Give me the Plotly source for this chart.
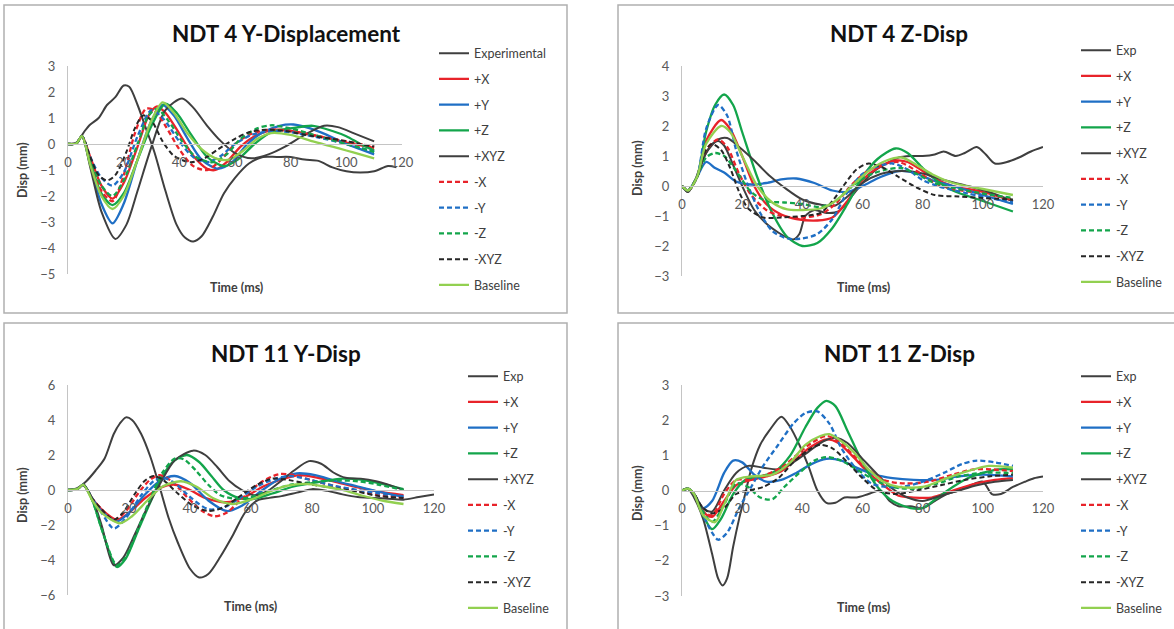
import plotly.graph_objects as go

W, H = 1174, 629

# ---------------- Data (time ms, displacement mm) ----------------
TIME_TICKS = [0, 20, 40, 60, 80, 100, 120]
SERIES_NAMES = ["Exp", "+X", "+Y", "+Z", "+XYZ", "-X", "-Y", "-Z", "-XYZ", "Baseline"]
PANEL_TITLES = ["NDT 4 Y-Displacement", "NDT 4 Z-Disp", "NDT 11 Y-Disp", "NDT 11 Z-Disp"]
Y_TICKS_1 = [-5, -4, -3, -2, -1, 0, 1, 2, 3]
Y_TICKS_2 = [-3, -2, -1, 0, 1, 2, 3, 4]
Y_TICKS_3 = [-6, -4, -2, 0, 2, 4, 6]
Y_TICKS_4 = [-3, -2, -1, 0, 1, 2, 3]

# Panel 1: NDT 4 Y-Displacement
P1_EXP = [(0,0),(3,0.05),(6,0.5),(8,0.75),(11,1.0),(14,1.5),(17,1.8),(20,2.25),(22,2.2),(25,1.5),(28,0.6),(31,-0.3),(35,-1.8),(39,-3.1),(42,-3.6),(45,-3.75),(48,-3.55),(52,-2.8),(56,-1.9),(60,-1.3),(65,-0.75),(70,-0.5),(75,-0.5),(80,-0.5),(85,-0.6),(90,-0.65),(95,-0.9),(100,-1.05),(105,-1.1),(110,-1.05),(115,-0.85),(118,-0.9)]
P1_PX = [(0,0),(3,0.02),(5,0.3),(8,-0.5),(12,-1.6),(16,-2.1),(20,-1.5),(25,-0.1),(29,1.1),(32,1.45),(35,1.2),(40,0.4),(45,-0.45),(50,-0.95),(53,-1.0),(57,-0.7),(62,-0.1),(68,0.35),(75,0.55),(80,0.5),(90,0.3),(100,0.05),(110,-0.15)]
P1_PY = [(0,0),(3,0.02),(5,0.3),(8,-0.8),(12,-2.3),(16,-3.05),(20,-2.3),(25,-0.6),(30,0.9),(34,1.5),(38,1.1),(43,0.2),(48,-0.6),(54,-0.95),(59,-0.7),(64,-0.05),(70,0.45),(76,0.7),(81,0.75),(87,0.6),(93,0.35),(100,0.0),(105,-0.2),(110,-0.4)]
P1_PZ = [(0,0),(3,0.02),(5,0.3),(8,-0.7),(12,-1.9),(16,-2.35),(20,-1.9),(25,-0.6),(30,0.7),(35,1.55),(39,1.2),(44,0.4),(50,-0.5),(56,-0.85),(61,-0.6),(67,0.0),(73,0.45),(80,0.6),(88,0.7),(95,0.5),(100,0.3),(105,0.0),(110,-0.25)]
P1_PXYZ = [(0,0),(3,0.02),(5,0.3),(8,-0.9),(12,-2.6),(17,-3.65),(21,-3.1),(25,-1.8),(30,-0.1),(35,1.3),(41,1.75),(45,1.4),(50,0.7),(55,0.1),(60,-0.35),(66,-0.55),(72,-0.4),(78,-0.1),(85,0.35),(92,0.7),(97,0.65),(103,0.4),(110,0.1)]
P1_MX = [(0,0),(3,0.02),(5,0.3),(8,-0.6),(12,-1.8),(16,-2.2),(20,-1.2),(24,0.4),(28,1.35),(31,1.3),(35,0.7),(40,-0.2),(45,-0.85),(50,-1.0),(55,-0.6),(60,0.0),(66,0.4),(73,0.55),(80,0.5),(90,0.3),(100,0.1),(110,-0.1)]
P1_MY = [(0,0),(3,0.02),(5,0.3),(8,-0.5),(12,-1.3),(16,-1.6),(20,-1.1),(25,0.3),(30,1.3),(34,1.0),(40,0.1),(45,-0.5),(50,-0.7),(55,-0.45),(60,0.0),(66,0.35),(74,0.5),(80,0.45),(90,0.25),(100,0.0),(105,-0.15),(110,-0.3)]
P1_MZ = [(0,0),(3,0.02),(5,0.3),(8,-0.6),(12,-1.6),(16,-2.0),(20,-1.4),(25,0.0),(29,1.1),(32,1.35),(36,0.9),(41,0.1),(46,-0.5),(52,-0.7),(57,-0.4),(62,0.2),(68,0.6),(73,0.72),(80,0.6),(90,0.3),(100,0.0),(105,-0.15),(110,-0.3)]
P1_MXYZ = [(0,0),(3,0.02),(5,0.3),(8,-0.5),(11,-1.2),(14,-1.4),(17,-1.2),(21,-0.3),(24,0.6),(27,1.1),(30,0.9),(34,0.1),(38,-0.45),(44,-0.7),(49,-0.55),(54,-0.2),(60,0.2),(65,0.45),(71,0.55),(78,0.5),(88,0.3),(98,0.15),(105,0.0),(110,-0.1)]
P1_BASE = [(0,0),(3,0.02),(5,0.3),(8,-0.8),(12,-2.0),(16,-2.5),(20,-2.0),(25,-0.6),(30,0.9),(34,1.6),(38,1.2),(43,0.4),(48,-0.2),(53,-0.55),(58,-0.6),(63,-0.25),(68,0.2),(73,0.42),(80,0.35),(88,0.1),(95,-0.1),(100,-0.25),(105,-0.4),(110,-0.55)]

# Panel 2: NDT 4 Z-Disp
P2_EXP = [(0,0),(2,-0.2),(4,0.1),(7,0.9),(10,1.4),(12,1.5),(14,1.35),(17,0.7),(20,0.0),(24,-0.8),(28,-1.25),(32,-1.55),(35,-1.72),(37,-1.78),(39,-1.6),(41,-1.0),(44,-0.8),(48,-0.9),(52,-0.85),(56,-0.4),(60,0.1),(64,0.5),(68,0.75),(72,0.95),(76,1.0),(80,1.0),(84,1.05),(87,1.15),(91,1.0),(94,1.1),(98,1.3),(101,1.05),(104,0.75),(108,0.8),(112,0.95),(116,1.15),(120,1.3)]
P2_PX = [(0,0),(2,-0.15),(5,0.3),(8,1.5),(13,2.2),(16,1.9),(20,1.0),(24,0.0),(28,-0.6),(33,-0.95),(38,-1.1),(45,-1.15),(50,-1.05),(55,-0.5),(60,0.2),(65,0.6),(71,0.85),(75,0.8),(80,0.5),(85,0.2),(90,0.0),(100,-0.2),(110,-0.5)]
P2_PY = [(0,0),(2,-0.15),(5,0.3),(8,0.8),(11,0.6),(14,0.45),(18,0.15),(23,0.05),(28,0.1),(33,0.22),(38,0.25),(44,0.1),(50,-0.15),(55,-0.2),(60,0.0),(66,0.3),(72,0.5),(77,0.45),(83,0.2),(90,0.0),(100,-0.3),(110,-0.6)]
P2_PZ = [(0,0),(2,-0.15),(5,0.3),(8,1.8),(11,2.7),(14,3.05),(17,2.7),(20,1.8),(25,0.3),(30,-0.9),(35,-1.7),(40,-2.0),(45,-1.9),(50,-1.4),(55,-0.6),(60,0.3),(65,0.9),(71,1.25),(75,1.1),(80,0.6),(85,0.15),(90,-0.15),(100,-0.5),(110,-0.85)]
P2_PXYZ = [(0,0),(2,-0.2),(5,0.3),(8,1.1),(12,1.55),(15,1.6),(19,1.3),(24,0.85),(29,0.35),(34,-0.05),(40,-0.45),(46,-0.62),(51,-0.65),(55,-0.35),(60,0.1),(66,0.4),(73,0.5),(80,0.42),(87,0.2),(95,0.0),(102,-0.2),(110,-0.5)]
P2_MX = [(0,0),(2,-0.15),(5,0.3),(8,1.2),(12,1.55),(15,1.3),(19,0.4),(23,-0.3),(28,-0.8),(33,-1.0),(40,-1.05),(46,-0.95),(51,-0.6),(56,0.0),(61,0.45),(66,0.7),(72,0.8),(78,0.5),(84,0.1),(90,-0.1),(100,-0.25),(110,-0.45)]
P2_MY = [(0,0),(2,-0.15),(5,0.3),(8,1.9),(12,2.7),(15,2.35),(18,1.2),(22,0.0),(26,-0.9),(30,-1.5),(35,-1.75),(40,-1.75),(45,-1.6),(50,-1.1),(55,-0.2),(60,0.4),(65,0.65),(70,0.75),(75,0.55),(80,0.2),(85,0.0),(95,-0.25),(110,-0.55)]
P2_MZ = [(0,0),(2,-0.15),(5,0.3),(8,0.95),(11,1.1),(14,1.0),(18,0.5),(23,-0.2),(28,-0.5),(34,-0.55),(40,-0.6),(46,-0.7),(51,-0.5),(56,-0.05),(62,0.35),(68,0.55),(73,0.6),(78,0.4),(84,0.1),(92,-0.1),(100,-0.25),(110,-0.4)]
P2_MXYZ = [(0,0),(2,-0.15),(5,0.3),(8,1.2),(10,1.4),(13,1.2),(16,0.6),(19,-0.2),(22,-0.75),(27,-1.05),(33,-1.05),(40,-1.0),(46,-0.9),(50,-0.5),(54,0.05),(58,0.55),(62,0.75),(67,0.6),(72,0.3),(78,-0.05),(84,-0.3),(92,-0.35),(100,-0.4),(110,-0.45)]
P2_BASE = [(0,0),(2,-0.15),(5,0.3),(8,1.4),(13,2.0),(16,1.8),(20,1.0),(25,0.0),(30,-0.55),(35,-0.78),(40,-0.8),(46,-0.75),(51,-0.5),(56,-0.05),(62,0.5),(68,0.85),(73,0.95),(78,0.7),(84,0.35),(90,0.1),(100,-0.1),(110,-0.3)]

# Panel 3: NDT 11 Y-Disp
P3_EXP = [(0,0),(3,0.1),(6,0.5),(9,1.1),(12,1.8),(15,3.2),(17,3.8),(19,4.15),(21,4.0),(24,3.2),(27,1.9),(30,0.2),(33,-1.6),(36,-3.0),(40,-4.5),(43,-5.0),(46,-4.8),(50,-3.8),(54,-2.6),(58,-1.3),(62,-0.6),(66,-0.45),(70,-0.35),(75,-0.15),(80,0.05),(85,-0.05),(90,-0.25),(95,-0.4),(100,-0.45),(105,-0.5),(110,-0.55),(115,-0.4),(120,-0.25)]
P3_PX = [(0,0),(3,0.05),(5,0.3),(8,-0.5),(11,-1.1),(16,-1.7),(20,-1.3),(25,-0.5),(30,0.1),(35,0.3),(40,0.0),(45,-0.45),(52,-0.7),(58,-0.4),(64,0.2),(70,0.6),(76,0.85),(82,0.7),(88,0.45),(95,0.15),(102,-0.1),(110,-0.3)]
P3_PY = [(0,0),(3,0.05),(5,0.3),(8,-0.5),(11,-1.2),(16,-1.8),(20,-1.3),(25,-0.3),(30,0.5),(35,0.8),(40,0.4),(46,-0.6),(52,-1.2),(57,-0.9),(63,-0.1),(69,0.6),(75,0.95),(81,0.85),(88,0.5),(95,0.2),(102,-0.1),(110,-0.4)]
P3_PZ = [(0,0),(3,0.05),(5,0.3),(8,-0.6),(11,-2.2),(16,-4.4),(19,-3.9),(23,-2.3),(27,-0.7),(31,0.8),(35,1.7),(39,2.0),(43,1.6),(47,0.8),(51,0.0),(56,-0.45),(61,-0.5),(67,-0.2),(74,0.2),(82,0.45),(90,0.65),(96,0.6),(103,0.35),(110,0.05)]
P3_PXYZ = [(0,0),(3,0.05),(5,0.3),(8,-0.5),(11,-2.0),(15,-4.3),(18,-3.9),(22,-2.5),(26,-1.0),(30,0.3),(35,1.7),(41,2.25),(45,2.0),(49,1.3),(53,0.5),(57,0.0),(61,-0.3),(65,-0.1),(69,0.4),(74,1.1),(79,1.65),(83,1.5),(87,1.0),(91,0.7),(96,0.65),(101,0.5),(106,0.25),(110,0.0)]
P3_MX = [(0,0),(3,0.05),(5,0.3),(8,-0.5),(11,-1.1),(15,-1.7),(19,-1.2),(23,-0.2),(27,0.6),(30,0.85),(34,0.5),(39,-0.4),(44,-1.2),(48,-1.5),(52,-1.3),(57,-0.5),(63,0.4),(69,0.9),(74,0.85),(80,0.55),(88,0.2),(95,-0.05),(102,-0.3),(110,-0.45)]
P3_MY = [(0,0),(3,0.05),(5,0.3),(8,-0.5),(11,-1.3),(15,-2.2),(19,-1.6),(24,-0.3),(28,0.5),(31,0.7),(35,0.4),(40,-0.4),(46,-1.1),(51,-1.0),(56,-0.5),(62,0.2),(68,0.65),(73,0.8),(79,0.6),(87,0.25),(95,0.0),(102,-0.2),(110,-0.35)]
P3_MZ = [(0,0),(3,0.05),(5,0.3),(8,-0.6),(11,-2.2),(16,-4.3),(19,-3.8),(23,-2.2),(27,-0.5),(31,1.0),(35,1.8),(38,1.75),(42,1.1),(46,0.3),(50,-0.3),(55,-0.5),(60,-0.4),(66,-0.05),(73,0.3),(80,0.45),(88,0.55),(95,0.5),(102,0.3),(110,0.0)]
P3_MXYZ = [(0,0),(3,0.05),(5,0.3),(8,-0.5),(11,-1.1),(15,-1.7),(18,-1.3),(22,-0.2),(25,0.5),(28,0.8),(31,0.6),(36,-0.2),(41,-0.9),(46,-1.2),(51,-1.0),(56,-0.4),(62,0.3),(67,0.65),(73,0.55),(80,0.3),(88,0.1),(95,-0.1),(102,-0.35),(110,-0.45)]
P3_BASE = [(0,0),(3,0.05),(5,0.3),(8,-0.6),(11,-1.3),(17,-1.9),(21,-1.5),(26,-0.6),(31,0.2),(37,0.5),(42,0.2),(48,-0.5),(54,-0.8),(60,-0.55),(66,-0.1),(72,0.25),(78,0.35),(84,0.2),(90,0.0),(96,-0.3),(103,-0.6),(110,-0.8)]

# Panel 4: NDT 11 Z-Disp
P4_EXP = [(0,0),(2,0.05),(4,-0.2),(7,-0.8),(10,-1.8),(12,-2.5),(13.5,-2.7),(15,-2.5),(17,-1.6),(19,-0.8),(21,-0.1),(23,0.6),(26,1.3),(29,1.7),(33,2.1),(36,1.8),(39,1.3),(42,0.7),(45,0.0),(48,-0.35),(51,-0.35),(54,-0.2),(58,-0.2),(62,-0.1),(66,0.0),(69,-0.3),(72,-0.45),(76,-0.45),(80,-0.5),(84,-0.3),(88,-0.1),(92,0.0),(96,0.15),(100,0.25),(103,-0.1),(106,-0.1),(110,0.1),(114,0.25),(117,0.35),(120,0.4)]
P4_PX = [(0,0),(2,0.05),(4,-0.1),(7,-0.6),(10,-0.75),(14,-0.3),(18,0.15),(23,0.3),(28,0.4),(33,0.55),(38,0.9),(43,1.25),(48,1.45),(52,1.35),(57,0.95),(62,0.5),(67,0.15),(72,-0.15),(77,-0.2),(83,-0.2),(90,0.0),(98,0.2),(104,0.3),(110,0.35)]
P4_PY = [(0,0),(2,0.05),(4,-0.1),(7,-0.5),(10,-0.3),(14,0.5),(17,0.85),(20,0.8),(24,0.45),(28,0.25),(33,0.3),(38,0.5),(43,0.75),(48,0.9),(53,0.85),(58,0.65),(64,0.45),(70,0.35),(77,0.3),(84,0.3),(92,0.4),(100,0.45),(110,0.4)]
P4_PZ = [(0,0),(2,0.05),(4,-0.1),(7,-0.7),(10,-1.1),(13,-0.8),(17,-0.1),(21,0.3),(26,0.4),(31,0.55),(36,1.0),(41,1.8),(45,2.35),(48,2.55),(51,2.4),(55,1.7),(60,0.8),(65,0.1),(70,-0.3),(76,-0.5),(80,-0.5),(85,-0.2),(90,0.1),(95,0.35),(100,0.5),(105,0.6),(110,0.6)]
P4_PXYZ = [(0,0),(2,0.05),(4,-0.1),(7,-0.5),(10,-0.6),(14,0.0),(18,0.5),(22,0.7),(27,0.65),(32,0.6),(37,0.8),(42,1.1),(47,1.4),(51,1.5),(55,1.35),(60,0.9),(65,0.45),(70,0.05),(75,-0.2),(80,-0.3),(86,-0.15),(92,0.0),(98,0.15),(104,0.25),(110,0.3)]
P4_MX = [(0,0),(2,0.05),(4,-0.1),(7,-0.6),(10,-0.7),(14,-0.1),(18,0.3),(23,0.3),(28,0.45),(33,0.65),(38,1.0),(43,1.35),(48,1.55),(52,1.4),(57,1.0),(62,0.6),(67,0.3),(74,0.2),(82,0.25),(90,0.45),(97,0.6),(103,0.6),(110,0.55)]
P4_MY = [(0,0),(2,0.05),(4,-0.1),(7,-0.7),(10,-1.2),(12,-1.4),(15,-1.2),(19,-0.5),(23,0.1),(27,0.7),(32,1.3),(37,1.9),(41,2.2),(45,2.25),(49,1.9),(53,1.2),(58,0.6),(63,0.2),(68,0.1),(73,0.1),(80,0.25),(87,0.5),(93,0.75),(98,0.85),(104,0.8),(110,0.7)]
P4_MZ = [(0,0),(2,0.05),(4,-0.1),(7,-0.6),(10,-0.9),(14,-0.4),(18,0.2),(22,0.1),(26,-0.2),(30,-0.25),(34,0.1),(39,0.5),(44,0.85),(48,0.95),(53,0.85),(58,0.6),(64,0.3),(70,0.1),(77,0.05),(85,0.2),(92,0.4),(100,0.5),(110,0.5)]
P4_MXYZ = [(0,0),(2,0.05),(4,-0.1),(7,-0.5),(10,-0.65),(14,-0.5),(18,-0.1),(22,0.0),(27,0.1),(32,0.35),(37,0.8),(42,1.15),(46,1.3),(50,1.2),(55,0.8),(60,0.35),(65,0.0),(71,-0.1),(78,0.0),(86,0.15),(94,0.3),(102,0.4),(110,0.45)]
P4_BASE = [(0,0),(2,0.05),(4,-0.1),(7,-0.7),(11,-0.9),(14,-0.4),(18,0.3),(23,0.4),(30,0.45),(36,0.8),(41,1.3),(46,1.55),(49,1.6),(53,1.4),(57,1.1),(62,0.6),(67,0.25),(72,0.1),(80,0.1),(88,0.35),(95,0.55),(102,0.7),(110,0.65)]

# ---------------- Styling ----------------
FONT = "Lato"
C_DARK = "#3f3f3f"
C_RED = "#e8232a"
C_BLUE = "#1f6fc5"
C_GREEN = "#13a54b"
C_BLACK = "#262626"
C_LIME = "#92d050"
AXIS_C = "#c4c4c4"

STYLES = [  # (color, dash, width)
    (C_DARK, "solid", 2.0),
    (C_RED, "solid", 2.3),
    (C_BLUE, "solid", 2.3),
    (C_GREEN, "solid", 2.3),
    (C_DARK, "solid", 2.0),
    (C_RED, "5px,3px", 2.3),
    (C_BLUE, "5px,3px", 2.3),
    (C_GREEN, "5px,3px", 2.3),
    (C_BLACK, "5px,3px", 2.0),
    (C_LIME, "solid", 2.3),
]

panels = [
    dict(data=[P1_EXP, P1_PX, P1_PY, P1_PZ, P1_PXYZ, P1_MX, P1_MY, P1_MZ, P1_MXYZ, P1_BASE],
         exp_name="Experimental", yticks=Y_TICKS_1, xpx=(68, 402), ypx=(66, 274),
         legend_xy=(434, 38.5), title_xy=(286, 33), xt_xy=(236, 287), yt_xy=(22, 170)),
    dict(data=[P2_EXP, P2_PX, P2_PY, P2_PZ, P2_PXYZ, P2_MX, P2_MY, P2_MZ, P2_MXYZ, P2_BASE],
         exp_name="Exp", yticks=Y_TICKS_2, xpx=(682, 1043), ypx=(66, 276),
         legend_xy=(1076, 35.5), title_xy=(899, 33), xt_xy=(863, 287), yt_xy=(637, 168)),
    dict(data=[P3_EXP, P3_PX, P3_PY, P3_PZ, P3_PXYZ, P3_MX, P3_MY, P3_MZ, P3_MXYZ, P3_BASE],
         exp_name="Exp", yticks=Y_TICKS_3, xpx=(68, 434), ypx=(385, 595),
         legend_xy=(463, 361.5), title_xy=(286, 353), xt_xy=(250, 606), yt_xy=(22, 495)),
    dict(data=[P4_EXP, P4_PX, P4_PY, P4_PZ, P4_PXYZ, P4_MX, P4_MY, P4_MZ, P4_MXYZ, P4_BASE],
         exp_name="Exp", yticks=Y_TICKS_4, xpx=(682, 1043), ypx=(385, 596),
         legend_xy=(1076, 361.5), title_xy=(899, 353), xt_xy=(863, 607), yt_xy=(637, 493)),
]
FRAMES = [(4, 5, 567, 313), (618, 5, 1200, 313), (4, 323, 567, 660), (618, 323, 1200, 660)]

fig = go.Figure()
layout = dict(width=W, height=H, margin=dict(l=0, r=0, t=0, b=0, pad=0, autoexpand=False),
              autosize=False,
              paper_bgcolor="white", plot_bgcolor="rgba(0,0,0,0)",
              font=dict(family=FONT, color="#595959"), showlegend=True)
annotations = []
shapes = []

for i, p in enumerate(panels):
    k = i + 1
    sfx = "" if k == 1 else str(k)
    xa, ya = "x" + sfx, "y" + sfx
    leg = "legend" + sfx
    for j, (series, (col, dash, wid)) in enumerate(zip(p["data"], STYLES)):
        name = p["exp_name"] if j == 0 else SERIES_NAMES[j]
        fig.add_trace(go.Scatter(
            x=[pt[0] for pt in series], y=[pt[1] for pt in series],
            mode="lines", name=name, xaxis=xa, yaxis=ya, legend=leg,
            legendgroup=f"p{k}_{j}",
            line=dict(color=col, dash=dash, width=wid, shape="spline", smoothing=0.8),
            hoverinfo="skip"))
    yt = p["yticks"]
    ymin, ymax = min(yt), max(yt)
    x0, x1 = p["xpx"]
    yt0, yb0 = p["ypx"]
    ydom = [1 - yb0 / H, 1 - yt0 / H]
    xpos = ydom[0] + (0 - ymin) / (ymax - ymin) * (ydom[1] - ydom[0])
    layout["xaxis" + sfx] = dict(domain=[x0 / W, x1 / W], range=[0, 120], anchor="free",
                                 position=xpos, showline=True, linecolor=AXIS_C, linewidth=1,
                                 showgrid=False, zeroline=False, ticks="", tickvals=TIME_TICKS,
                                 tickfont=dict(family=FONT, size=13, color="#595959"),
                                 ticklabelstandoff=6, fixedrange=True, automargin=False)
    layout["yaxis" + sfx] = dict(domain=ydom, range=[ymin, ymax], anchor=xa,
                                 showline=True, linecolor=AXIS_C, linewidth=1,
                                 showgrid=False, zeroline=False, ticks="", tickvals=yt,
                                 tickfont=dict(family=FONT, size=13, color="#595959"),
                                 ticklabelstandoff=9, fixedrange=True, automargin=False)
    lx, ly = p["legend_xy"]
    layout[leg] = dict(x=lx / W, y=1 - ly / H, xanchor="left", yanchor="top",
                       bgcolor="rgba(0,0,0,0)", borderwidth=0,
                       font=dict(family=FONT, size=12.5, color="#404040"),
                       traceorder="grouped", tracegroupgap=6.5, itemclick=False,
                       itemdoubleclick=False)
    tx, ty = p["title_xy"]
    annotations.append(dict(text="<b>" + PANEL_TITLES[i] + "</b>", x=tx / W, y=1 - ty / H,
                            xref="paper", yref="paper", showarrow=False,
                            xanchor="center", yanchor="middle",
                            font=dict(family=FONT, size=22.5, color="#111111")))
    ax_, ay_ = p["xt_xy"]
    annotations.append(dict(text="<b>Time (ms)</b>", x=ax_ / W, y=1 - ay_ / H,
                            xref="paper", yref="paper", showarrow=False,
                            xanchor="center", yanchor="middle",
                            font=dict(family=FONT, size=12.5, color="#404040")))
    bx, by = p["yt_xy"]
    annotations.append(dict(text="<b>Disp (mm)</b>", x=bx / W, y=1 - by / H, textangle=-90,
                            xref="paper", yref="paper", showarrow=False,
                            xanchor="center", yanchor="middle",
                            font=dict(family=FONT, size=12.5, color="#404040")))

for (fx0, fy0, fx1, fy1) in FRAMES:
    shapes.append(dict(type="rect", xref="paper", yref="paper",
                       x0=fx0 / W, x1=fx1 / W, y0=1 - fy1 / H, y1=1 - fy0 / H,
                       line=dict(color="#b0b0b0", width=1.5), fillcolor="rgba(0,0,0,0)",
                       layer="below"))

layout["annotations"] = annotations
layout["shapes"] = shapes
fig.update_layout(**layout)
fig.write_html("out.html",
               config={"displayModeBar": False, "staticPlot": True},
               post_script="document.body.style.margin='0px';document.body.style.overflow='hidden';")
